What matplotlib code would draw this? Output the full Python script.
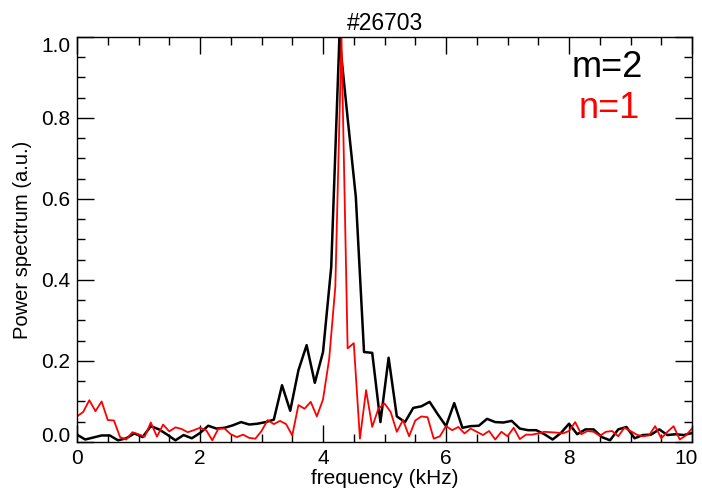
import numpy as np
import matplotlib
matplotlib.use('Agg')
import matplotlib.pyplot as plt
import matplotlib.transforms as mtransforms
from matplotlib.ticker import MultipleLocator

plt.rcParams['font.family'] = ['Liberation Sans', 'DejaVu Sans']

shot = '#26703'

# m=2 spectrum, df = 2/15 kHz
m_freq = np.arange(76) * 2.0 / 15.0
m_power = [0.018, 0.006, 0.011, 0.016, 0.016, 0.004, 0.009, 0.021, 0.012, 0.039,
           0.031, 0.018, 0.004, 0.017, 0.009, 0.022, 0.040, 0.033, 0.035, 0.041,
           0.049, 0.043, 0.045, 0.049, 0.055, 0.140, 0.077, 0.177, 0.239, 0.146,
           0.222, 0.432, 1.000, 0.800, 0.605, 0.222, 0.220, 0.049, 0.208, 0.063,
           0.049, 0.084, 0.088, 0.099, 0.068, 0.039, 0.096, 0.035, 0.039, 0.040,
           0.057, 0.049, 0.048, 0.052, 0.033, 0.029, 0.029, 0.019, 0.006, 0.022,
           0.045, 0.019, 0.031, 0.031, 0.012, 0.004, 0.031, 0.037, 0.009, 0.017,
           0.018, 0.031, 0.017, 0.019, 0.017, 0.022]

# n=1 spectrum, df = 0.1 kHz
n_freq = np.arange(101) * 0.1
n_power = [0.063, 0.074, 0.103, 0.076, 0.100, 0.054, 0.053, 0.012, 0.006, 0.024,
           0.019, 0.013, 0.048, 0.013, 0.043, 0.026, 0.036, 0.032, 0.024, 0.029,
           0.035, 0.029, 0.004, 0.033, 0.033, 0.019, 0.012, 0.018, 0.010, 0.008,
           0.027, 0.054, 0.044, 0.052, 0.044, 0.016, 0.091, 0.082, 0.099, 0.063,
           0.105, 0.205, 0.383, 1.000, 0.231, 0.244, 0.008, 0.128, 0.037, 0.082,
           0.095, 0.074, 0.025, 0.054, 0.014, 0.053, 0.063, 0.061, 0.008, 0.014,
           0.039, 0.029, 0.037, 0.021, 0.033, 0.025, 0.017, 0.027, 0.006, 0.025,
           0.014, 0.035, 0.007, 0.018, 0.018, 0.021, 0.025, 0.024, 0.023, 0.021,
           0.027, 0.049, 0.019, 0.027, 0.025, 0.015, 0.025, 0.027, 0.014, 0.035,
           0.027, 0.018, 0.014, 0.016, 0.039, 0.009, 0.025, 0.039, 0.006, 0.016,
           0.033]

fig = plt.figure(figsize=(7.02, 4.96), dpi=100)
ax = fig.add_axes([0.1097, 0.109, 0.8761, 0.8164])

ax.plot(m_freq, m_power, color='black', lw=1.8)
ax.plot(n_freq, n_power, color='red', lw=1.3)

ax.set_xlim(0, 10)
ax.set_ylim(0, 1)
ax.xaxis.set_major_locator(MultipleLocator(2))
ax.xaxis.set_minor_locator(MultipleLocator(0.5))
ax.yaxis.set_major_locator(MultipleLocator(0.2))
ax.yaxis.set_minor_locator(MultipleLocator(0.05))
ax.tick_params(which='both', direction='in', top=True, right=True, labelsize=15, width=1)
ax.tick_params(which='major', length=12, pad=5)
ax.tick_params(which='minor', length=6)
for s in ax.spines.values():
    s.set_linewidth(1)

ax.set_yticks([0.0, 0.2, 0.4, 0.6, 0.8, 1.0])
ax.set_yticklabels(['0.0', '0.2', '0.4', '0.6', '0.8', '1.0'])
labs = ax.get_yticklabels()
labs[0].set_va('baseline')
labs[-1].set_va('top')

# keep the last x label inside the figure
ax.set_xticks([0, 2, 4, 6, 8, 10])
ax.set_xticklabels(['0', '2', '4', '6', '8', '10'])
xl = ax.get_xticklabels()[-1]
xl.set_transform(xl.get_transform() + mtransforms.ScaledTranslation(-6 / 100, 0, fig.dpi_scale_trans))

ax.set_xlabel('frequency (kHz)', fontsize=15, labelpad=1)
ax.set_ylabel('Power spectrum (a.u.)', fontsize=14.5, labelpad=6)
ax.set_title(shot, fontsize=16.5, pad=5)

ax.text(0.862, 0.925, 'm=2', transform=ax.transAxes, fontsize=26, color='black',
        ha='center', va='center')
ax.text(0.865, 0.824, 'n=1', transform=ax.transAxes, fontsize=26, color='red',
        ha='center', va='center')

fig.savefig('out.png', dpi=100)
